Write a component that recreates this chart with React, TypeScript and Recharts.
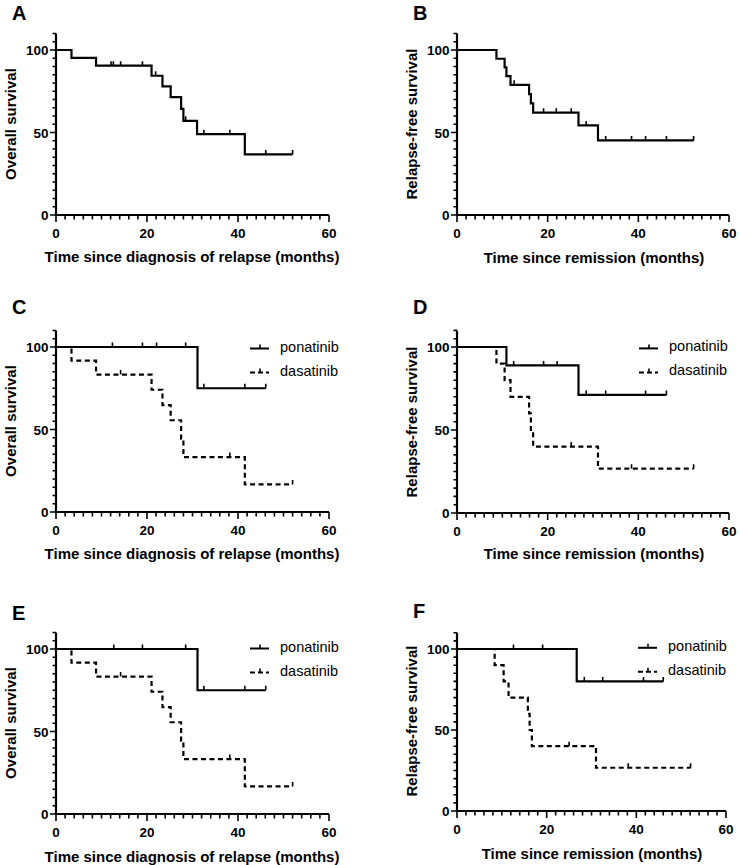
import React from "react";
import { ComposedChart, Line, Scatter, XAxis, YAxis, Legend } from "recharts";

const FONT = "'Liberation Sans', Arial, Helvetica, sans-serif";

// A: overall survival, all patients (months since relapse diagnosis)
const osAllTimes = [0, 3.4, 8.8, 21.0, 23.4, 25.2, 27.5, 28.0, 31.0, 41.5, 52.0];
const osAllSurv = [100, 95.2, 90.5, 84.4, 77.9, 71.4, 64.3, 57.1, 49.0, 36.7, 36.7];
const osAllCensor = [12.1, 12.6, 14.2, 19.0, 21.9, 28.5, 32.5, 38.2, 46.1, 52.0];

// B: relapse-free survival, all patients
const rfsAllTimes = [0, 8.7, 10.5, 10.9, 11.8, 15.9, 16.3, 16.8, 26.8, 31.1, 52.2];
const rfsAllSurv = [100, 94.7, 89.5, 84.2, 78.9, 73.3, 67.7, 62.0, 54.3, 45.2, 45.2];
const rfsAllCensor = [12.6, 19.1, 21.9, 25.2, 28.5, 32.8, 38.5, 41.6, 46.2, 52.2];

// C: overall survival by TKI
const osPonTimes = [0, 31.1, 46.1];
const osPonSurv = [100, 75, 75];
const osPonCensor = [12.4, 19.0, 22.1, 28.5, 32.5, 41.5, 46.1];
const osDasTimes = [0, 3.4, 8.8, 21.0, 23.4, 25.2, 27.5, 28.0, 41.5, 52.0];
const osDasSurv = [100, 91.7, 83.3, 74.1, 64.8, 55.6, 44.4, 33.3, 16.7, 16.7];
const osDasCensor = [14.2, 38.2, 52.0];

// D: relapse-free survival by TKI
const rfsPonTimes = [0, 10.9, 26.8, 46.2];
const rfsPonSurv = [100, 88.9, 71.1, 71.1];
const rfsPonCensor = [12.5, 19.1, 22.1, 28.5, 32.8, 41.6, 46.2];
const rfsDasTimes = [0, 8.7, 10.5, 11.8, 15.9, 16.3, 16.8, 31.1, 52.2];
const rfsDasSurv = [100, 90, 80, 70, 60, 50, 40, 26.7, 26.7];
const rfsDasCensor = [25.2, 38.5, 52.2];

// E: overall survival by TKI (subset)
const osPon2Times = [0, 31.1, 46.1];
const osPon2Surv = [100, 75, 75];
const osPon2Censor = [12.7, 19.0, 28.5, 32.5, 41.5, 46.1];

// F: relapse-free survival by TKI (subset)
const rfsPon2Times = [0, 26.7, 46.0];
const rfsPon2Surv = [100, 80, 80];
const rfsPon2Censor = [12.6, 19.1, 28.4, 32.5, 41.6, 46.0];
const rfsDas2Times = [0, 8.4, 10.4, 11.5, 15.8, 16.2, 16.7, 31.0, 52.1];
const rfsDas2Surv = [100, 90, 80, 70, 60, 50, 40, 26.7, 26.7];
const rfsDas2Censor = [25.0, 38.2, 52.1];

const xMajor = [0, 20, 40, 60];
const yMajor = [0, 50, 100];
const xTicks = Array.from({ length: 31 }, (_, i) => i * 2);
const yTicks = Array.from({ length: 23 }, (_, i) => i * 5);

type Curve = { name: string; times: number[]; surv: number[]; censor: number[]; dashed?: boolean };

const toSteps = (c: Curve) => c.times.map((t, i) => ({ t, s: c.surv[i] }));
const survAt = (c: Curve, t: number) => {
  let s = c.surv[0];
  c.times.forEach((ti, i) => {
    if (ti <= t) s = c.surv[i];
  });
  return s;
};
const toCensor = (c: Curve) => c.censor.map((t) => ({ t, s: survAt(c, t) }));

const XTick = (props: any) => {
  const { x, y, payload } = props;
  const v = payload.value;
  const major = xMajor.includes(v);
  return (
    <g>
      <line x1={x} x2={x} y1={y} y2={y + (major ? 7 : 4.5)} stroke="#000" strokeWidth={1.6} />
      {major && (
        <text x={x} y={y + 23} textAnchor="middle" fontSize={13.5} fontWeight="bold" fontFamily={FONT} fill="#000">
          {v}
        </text>
      )}
    </g>
  );
};

const YTick = (props: any) => {
  const { x, y, payload } = props;
  const v = payload.value;
  const major = yMajor.includes(v);
  return (
    <g>
      <line x1={x} x2={x - (major ? 6 : 3.5)} y1={y} y2={y} stroke="#000" strokeWidth={1.6} />
      {major && (
        <text x={x - 7.5} y={y + 5} textAnchor="end" fontSize={13.5} fontWeight="bold" fontFamily={FONT} fill="#000">
          {v}
        </text>
      )}
    </g>
  );
};

const CensorTick = (props: any) => {
  const { cx, cy } = props;
  return <line x1={cx} x2={cx} y1={cy} y2={cy - 4.5} stroke="#000" strokeWidth={1.6} />;
};

const LegendSample = ({ dashed }: { dashed?: boolean }) => (
  <svg width={20} height={10} style={{ overflow: "visible" }}>
    <line x1={0} x2={19} y1={7} y2={7} stroke="#000" strokeWidth={2} strokeDasharray={dashed ? "5 3" : undefined} />
    <line x1={10} x2={10} y1={7} y2={3} stroke="#000" strokeWidth={1.6} />
  </svg>
);

const PAD_L = 50;
const PAD_T = 15;
const PAD_R = 40;
const PAD_B = 35;

type PanelProps = {
  letter: string;
  letterX: number;
  letterY: number;
  x0: number;
  x60: number;
  y0: number;
  y100: number;
  curves: Curve[];
  yTitle: string;
  yTitleX: number;
  yTitleY: number;
  xTitle: string;
  xTitleX: number;
  xTitleY: number;
  legendX?: number;
  legendY?: number;
};

const Panel = (p: PanelProps) => {
  const plotTop = p.y0 - (p.y0 - p.y100) * 1.1;
  const boxLeft = p.x0 - PAD_L;
  const boxTop = plotTop - PAD_T;
  const width = p.x60 - p.x0 + PAD_L + PAD_R;
  const height = p.y0 - plotTop + PAD_T + PAD_B;
  const axisLine = { stroke: "#000", strokeWidth: 2.2 };

  return (
    <>
      <div style={{ position: "absolute", left: 0, top: 0, transform: `translate(${boxLeft}px, ${boxTop}px)` }}>
        <ComposedChart width={width} height={height} margin={{ top: PAD_T, left: 0, right: PAD_R, bottom: 0 }}>
          <XAxis
            type="number"
            dataKey="t"
            domain={[0, 60]}
            ticks={xTicks}
            interval={0}
            tick={XTick}
            tickLine={false}
            tickSize={0}
            tickMargin={0}
            axisLine={axisLine}
            height={PAD_B}
          />
          <YAxis
            type="number"
            domain={[0, 110]}
            ticks={yTicks}
            interval={0}
            tick={YTick}
            tickLine={false}
            tickSize={0}
            tickMargin={0}
            axisLine={axisLine}
            width={PAD_L}
          />
          {p.curves.map((c) => (
            <Line
              key={c.name + "-line"}
              data={toSteps(c)}
              dataKey="s"
              name={c.name}
              type="stepAfter"
              stroke="#000"
              strokeWidth={2.2}
              strokeDasharray={c.dashed ? "5 3.5" : undefined}
              dot={false}
              activeDot={false}
              isAnimationActive={false}
            />
          ))}
          {p.curves.map((c) => (
            <Scatter
              key={c.name + "-censor"}
              data={toCensor(c)}
              dataKey="s"
              shape={CensorTick}
              isAnimationActive={false}
            />
          ))}
          {p.legendX !== undefined && p.legendY !== undefined && (
            <Legend
              layout="horizontal"
              align="center"
              verticalAlign="middle"
              wrapperStyle={{ left: p.legendX - boxLeft, top: p.legendY - boxTop, width: "auto" }}
              content={() => (
                <div style={{ fontFamily: FONT, fontSize: 14.5, color: "#000", lineHeight: "24px" }}>
                  {p.curves.map((c) => (
                    <div key={c.name} style={{ display: "flex", alignItems: "center", whiteSpace: "nowrap" }}>
                      <LegendSample dashed={c.dashed} />
                      <span style={{ marginLeft: 10 }}>{c.name}</span>
                    </div>
                  ))}
                </div>
              )}
            />
          )}
        </ComposedChart>
      </div>
      <div
        style={{
          position: "absolute",
          left: p.letterX,
          top: p.letterY,
          transform: "translateY(-50%)",
          fontFamily: FONT,
          fontWeight: "bold",
          fontSize: 20,
          lineHeight: 1,
        }}
      >
        {p.letter}
      </div>
      <div
        style={{
          position: "absolute",
          left: p.yTitleX,
          top: p.yTitleY,
          transform: "translate(-50%, -50%) rotate(-90deg)",
          fontFamily: FONT,
          fontWeight: "bold",
          fontSize: 15,
          lineHeight: 1,
          whiteSpace: "nowrap",
        }}
      >
        {p.yTitle}
      </div>
      <div
        style={{
          position: "absolute",
          left: p.xTitleX,
          top: p.xTitleY,
          transform: "translate(-50%, -50%)",
          fontFamily: FONT,
          fontWeight: "bold",
          fontSize: 15,
          lineHeight: 1,
          whiteSpace: "nowrap",
        }}
      >
        {p.xTitle}
      </div>
    </>
  );
};

const osAll: Curve = { name: "all", times: osAllTimes, surv: osAllSurv, censor: osAllCensor };
const rfsAll: Curve = { name: "all", times: rfsAllTimes, surv: rfsAllSurv, censor: rfsAllCensor };
const osPon: Curve = { name: "ponatinib", times: osPonTimes, surv: osPonSurv, censor: osPonCensor };
const osDas: Curve = { name: "dasatinib", times: osDasTimes, surv: osDasSurv, censor: osDasCensor, dashed: true };
const rfsPon: Curve = { name: "ponatinib", times: rfsPonTimes, surv: rfsPonSurv, censor: rfsPonCensor };
const rfsDas: Curve = { name: "dasatinib", times: rfsDasTimes, surv: rfsDasSurv, censor: rfsDasCensor, dashed: true };
const osPon2: Curve = { name: "ponatinib", times: osPon2Times, surv: osPon2Surv, censor: osPon2Censor };
const rfsPon2: Curve = { name: "ponatinib", times: rfsPon2Times, surv: rfsPon2Surv, censor: rfsPon2Censor };
const rfsDas2: Curve = { name: "dasatinib", times: rfsDas2Times, surv: rfsDas2Surv, censor: rfsDas2Censor, dashed: true };

const OS_X = "Time since diagnosis of relapse (months)";
const RFS_X = "Time since remission (months)";

export default function App() {
  return (
    <div style={{ position: "absolute", left: 0, top: 0, width: 740, height: 865, background: "#fff", overflow: "hidden" }}>
      <Panel letter="A" letterX={12} letterY={13} x0={56} x60={329} y0={215} y100={50} curves={[osAll]}
        yTitle="Overall survival" yTitleX={10} yTitleY={124} xTitle={OS_X} xTitleX={192} xTitleY={256} />
      <Panel letter="B" letterX={413} letterY={13} x0={457} x60={729} y0={215} y100={50} curves={[rfsAll]}
        yTitle="Relapse-free survival" yTitleX={411} yTitleY={124} xTitle={RFS_X} xTitleX={594} xTitleY={257} />
      <Panel letter="C" letterX={12} letterY={307} x0={56} x60={329} y0={512} y100={347} curves={[osPon, osDas]}
        yTitle="Overall survival" yTitleX={10} yTitleY={421} xTitle={OS_X} xTitleX={192} xTitleY={553}
        legendX={250} legendY={334} />
      <Panel letter="D" letterX={413} letterY={307} x0={457} x60={729} y0={513} y100={347} curves={[rfsPon, rfsDas]}
        yTitle="Relapse-free survival" yTitleX={411} yTitleY={422} xTitle={RFS_X} xTitleX={594} xTitleY={553}
        legendX={639} legendY={334} />
      <Panel letter="E" letterX={12} letterY={613} x0={56} x60={329} y0={814} y100={649} curves={[osPon2, osDas]}
        yTitle="Overall survival" yTitleX={10} yTitleY={723} xTitle={OS_X} xTitleX={192} xTitleY={856}
        legendX={250} legendY={634} />
      <Panel letter="F" letterX={413} letterY={611} x0={457} x60={726} y0={811} y100={649} curves={[rfsPon2, rfsDas2]}
        yTitle="Relapse-free survival" yTitleX={411} yTitleY={721} xTitle={RFS_X} xTitleX={592} xTitleY={853}
        legendX={638} legendY={634} />
    </div>
  );
}
